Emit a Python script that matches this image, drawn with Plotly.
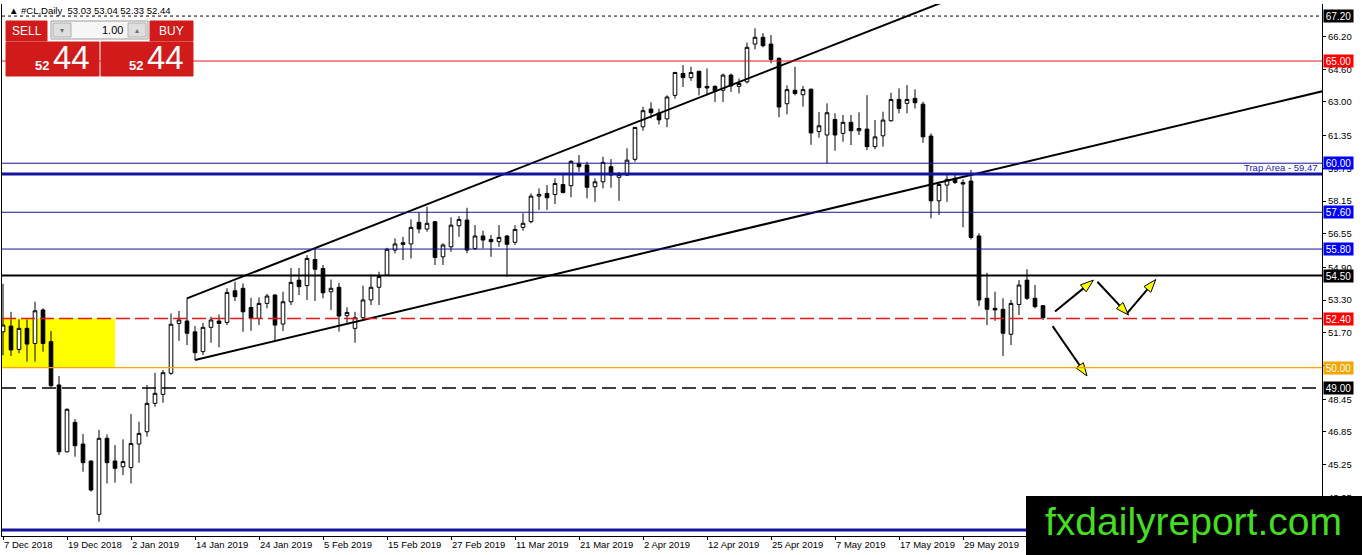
import math
import plotly.graph_objects as go

# ---- #CL Daily candles, bar 0 = 7 Dec 2018 (one bar per trading day) ----
opens = [51.75, 52.03, 50.89, 51.92, 51.18, 52.82, 51.27, 49.15, 45.88, 47.32,
         46.26, 45.43, 42.82, 46.54, 45.43, 45.15, 45.11, 46.26, 46.86, 48.25,
         48.69, 49.72, 52.16, 52.28, 51.75, 50.78, 51.97, 52.28, 52.21, 53.76,
         53.88, 52.94, 52.41, 53.14, 53.55, 52.13, 53.22, 54.28, 54.01, 55.29,
         54.85, 53.71, 53.93, 52.54, 51.92, 52.44, 53.31, 53.93, 54.53, 55.75,
         56.11, 56.05, 57.11, 56.78, 57.14, 55.42, 55.91, 56.94, 57.22, 55.83,
         56.44, 56.27, 56.16, 56.44, 56.13, 56.86, 57.14, 58.39, 58.52, 58.47,
         58.96, 58.90, 59.99, 59.91, 58.85, 59.09, 59.83, 59.31, 59.42, 60.19,
         61.78, 62.65, 62.45, 62.17, 63.32, 64.39, 64.19, 64.50, 63.76, 63.76,
         63.57, 64.31, 63.76, 63.98, 65.83, 66.16, 65.83, 65.13, 62.91, 63.57,
         63.35, 63.62, 61.55, 61.38, 62.14, 61.46, 62.00, 61.59, 61.67, 60.81,
         61.34, 62.08, 63.12, 62.93, 63.17, 62.89, 61.33, 58.16, 58.93, 59.26,
         59.06, 59.13, 56.44, 53.39, 52.90, 52.85, 51.63, 53.09, 54.28, 53.39,
         53.03]
highs = [54.10, 52.73, 52.36, 52.36, 53.22, 52.90, 51.79, 49.59, 48.00, 47.48,
         46.75, 45.45, 46.95, 46.73, 46.21, 46.49, 47.73, 47.35, 49.15, 49.75,
         49.88, 52.65, 52.77, 53.39, 52.03, 52.19, 52.49, 52.60, 53.88, 54.20,
         54.12, 53.41, 53.43, 53.60, 53.60, 53.71, 54.87, 54.87, 55.50, 55.83,
         55.02, 54.31, 54.15, 52.95, 52.73, 54.01, 54.56, 54.69, 55.86, 56.32,
         56.40, 57.25, 57.60, 57.87, 57.14, 56.08, 57.35, 57.41, 57.82, 56.97,
         56.70, 56.49, 56.97, 56.49, 56.97, 57.55, 58.52, 58.77, 58.93, 59.26,
         59.53, 60.15, 60.40, 60.07, 59.26, 60.32, 60.20, 59.58, 60.73, 61.78,
         62.76, 62.98, 62.67, 63.32, 64.47, 64.80, 64.72, 64.50, 64.64, 63.81,
         64.39, 64.39, 64.14, 65.90, 66.60, 66.36, 66.27, 65.18, 63.81, 64.72,
         63.78, 63.65, 62.50, 62.93, 62.44, 62.36, 62.36, 62.49, 63.33, 62.11,
         62.52, 63.45, 63.66, 63.82, 63.61, 63.01, 61.46, 59.09, 59.50, 59.53,
         59.21, 59.67, 56.57, 54.64, 53.71, 53.39, 53.31, 54.28, 54.81, 54.04,
         53.04]
lows = [50.60, 50.57, 50.70, 50.29, 50.29, 50.78, 49.06, 45.72, 45.85, 45.64,
        44.91, 43.93, 42.46, 44.33, 44.37, 44.74, 44.33, 45.35, 46.62, 48.09,
        48.28, 49.64, 51.31, 51.10, 50.37, 50.61, 51.22, 50.99, 52.08, 53.26,
        51.75, 51.80, 52.08, 52.90, 51.30, 51.79, 53.06, 53.55, 53.31, 53.26,
        53.39, 52.82, 51.76, 52.16, 51.22, 52.30, 53.06, 53.06, 54.48, 55.59,
        55.26, 55.34, 56.57, 56.65, 55.02, 55.02, 55.67, 56.40, 55.59, 55.75,
        55.83, 55.42, 55.91, 54.45, 56.00, 56.70, 57.06, 57.71, 57.71, 58.00,
        58.52, 58.33, 59.58, 58.28, 58.11, 58.77, 58.80, 58.16, 59.37, 60.07,
        61.59, 62.19, 61.89, 61.76, 63.16, 63.73, 64.03, 63.32, 63.32, 62.99,
        62.99, 63.49, 63.41, 63.90, 65.57, 65.67, 64.89, 62.25, 62.39, 63.32,
        62.77, 60.90, 61.25, 60.00, 60.61, 61.05, 60.89, 61.38, 60.64, 60.68,
        60.81, 62.03, 62.44, 62.44, 62.68, 61.00, 57.30, 57.46, 58.11, 58.98,
        56.86, 56.27, 53.01, 52.08, 52.29, 50.57, 51.10, 52.57, 53.31, 52.90,
        52.33]
closes = [52.08, 50.86, 51.92, 51.15, 52.78, 51.18, 49.11, 45.88, 47.96, 46.18,
          45.35, 44.01, 46.54, 45.35, 45.07, 45.40, 46.29, 46.78, 48.25, 48.74,
          49.75, 52.12, 52.33, 51.68, 50.73, 51.97, 52.33, 52.16, 53.68, 53.47,
          52.73, 52.41, 53.14, 53.50, 52.08, 53.22, 54.17, 53.96, 55.34, 54.81,
          53.66, 53.88, 52.52, 52.70, 52.44, 53.31, 53.93, 54.45, 55.79, 56.05,
          56.03, 56.86, 56.78, 57.06, 55.39, 56.00, 56.97, 57.25, 55.75, 56.44,
          56.24, 56.16, 56.37, 56.03, 56.76, 57.06, 58.39, 58.47, 58.31, 59.01,
          58.57, 60.09, 59.83, 58.82, 59.09, 60.04, 59.42, 59.45, 60.15, 61.75,
          62.57, 62.47, 62.12, 63.24, 64.44, 64.19, 64.44, 63.70, 63.68, 63.52,
          64.31, 63.78, 63.90, 65.67, 66.16, 65.75, 65.08, 62.75, 63.60, 63.41,
          63.60, 61.48, 61.83, 62.47, 61.38, 62.00, 61.59, 61.70, 60.81, 61.29,
          62.11, 63.12, 62.68, 63.12, 62.96, 61.29, 58.16, 58.96, 59.21, 59.06,
          58.98, 56.37, 53.31, 52.85, 52.82, 51.68, 53.14, 54.04, 53.39, 52.98,
          52.44]

label_bars = [0, 8, 16, 24, 32, 40, 48, 56, 64, 72, 80, 88, 96, 104, 112, 120]
date_labels = ["7 Dec 2018", "19 Dec 2018", "2 Jan 2019", "14 Jan 2019",
               "24 Jan 2019", "5 Feb 2019", "15 Feb 2019", "27 Feb 2019",
               "11 Mar 2019", "21 Mar 2019", "2 Apr 2019", "12 Apr 2019",
               "25 Apr 2019", "7 May 2019", "17 May 2019", "29 May 2019"]
price_ticks = [66.20, 64.60, 63.00, 61.35, 59.75, 58.15, 56.55, 54.90,
               53.30, 51.70, 50.10, 48.45, 46.85, 45.25, 43.65]

# horizontal levels drawn on the chart
levels = [67.20, 65.00, 60.00, 59.47, 57.60, 55.80, 54.50, 52.40, 50.00, 49.00, 42.05]
labelled_levels = [67.20, 65.00, 60.00, 57.60, 55.80, 54.50, 52.40, 50.00, 49.00]
trap_level = 59.47

# channel trendlines (anchor bar, price)
upper_line_x = [23, 118]
upper_line_y = [53.39, 67.96]
lower_line_x = [24, 166]
lower_line_y = [50.37, 63.62]

# yellow zone
zone_x = [-1, 14]
zone_y = [50.00, 52.40]

# scenario arrows (start bar/price -> end bar/price)
arrow_x0 = [131.5, 136.8, 140.5, 131.2]
arrow_y0 = [52.74, 54.20, 52.65, 52.03]
arrow_x1 = [136.3, 140.7, 144.1, 135.5]
arrow_y1 = [54.28, 52.57, 54.31, 49.59]

# ---- layout geometry ----
W, H = 1362, 555
ML, MR, MT, MB = 2, 40, 4, 19
PLOT_W = W - ML - MR
PLOT_H = H - MT - MB
X_RANGE = [-0.125, -0.125 + PLOT_W / 8]
Y_RANGE = [41.76, 67.79]
PX_BAR = PLOT_W / (X_RANGE[1] - X_RANGE[0])
PX_PRICE = PLOT_H / (Y_RANGE[1] - Y_RANGE[0])

FONT = "Liberation Sans"
BLUE_LINE = "#14149c"


def fx(px):
    return (px - ML) / PLOT_W


def fy(py):
    return 1 - (py - MT) / PLOT_H


level_style = {
    67.20: dict(color="black", width=1, dash="3px,3px"),
    65.00: dict(color="#e31a1a", width=1),
    60.00: dict(color=BLUE_LINE, width=1),
    59.47: dict(color=BLUE_LINE, width=3),
    57.60: dict(color=BLUE_LINE, width=1),
    55.80: dict(color=BLUE_LINE, width=1),
    54.50: dict(color="black", width=2),
    52.40: dict(color="#e31a1a", width=1.5, dash="14px,5px"),
    50.00: dict(color="#ffa500", width=1.2),
    49.00: dict(color="black", width=1.5, dash="14px,6px"),
    42.05: dict(color=BLUE_LINE, width=3),
}
label_bg = {67.20: "black", 65.00: "#ff0000", 60.00: "#0000ff", 57.60: "#0000ff",
            55.80: "#0000ff", 54.50: "black", 52.40: "#ff0000", 50.00: "#f5a500",
            49.00: "black"}

bars = list(range(len(opens)))

fig = go.Figure()
fig.add_trace(go.Candlestick(
    x=bars, open=opens, high=highs, low=lows, close=closes,
    increasing=dict(fillcolor="white", line=dict(color="black", width=1)),
    decreasing=dict(fillcolor="black", line=dict(color="black", width=1)),
    whiskerwidth=0, showlegend=False, hoverinfo="skip"
))

# channel lines
for lx, ly in ((upper_line_x, upper_line_y), (lower_line_x, lower_line_y)):
    fig.add_trace(go.Scatter(x=lx, y=ly, mode="lines", showlegend=False,
                             line=dict(color="black", width=2), hoverinfo="skip"))

# arrows: black shaft + yellow head
for x0, y0, x1, y1 in zip(arrow_x0, arrow_y0, arrow_x1, arrow_y1):
    dxp = (x1 - x0) * PX_BAR
    dyp = (y1 - y0) * PX_PRICE
    length = math.hypot(dxp, dyp)
    ux, uy = dxp / length, dyp / length
    head_len, half_w = 13, 4.5
    bx, by = -ux * head_len, -uy * head_len
    px_, py_ = -uy * half_w, ux * half_w
    base_x = x1 + bx / PX_BAR
    base_y = y1 + by / PX_PRICE
    fig.add_trace(go.Scatter(x=[x0, base_x], y=[y0, base_y], mode="lines",
                             line=dict(color="black", width=2),
                             showlegend=False, hoverinfo="skip"))
    hx = [x1, base_x + px_ / PX_BAR, base_x - px_ / PX_BAR, x1]
    hy = [y1, base_y + py_ / PX_PRICE, base_y - py_ / PX_PRICE, y1]
    fig.add_trace(go.Scatter(x=hx, y=hy, mode="lines", fill="toself",
                             fillcolor="#ffff00", line=dict(color="black", width=1),
                             showlegend=False, hoverinfo="skip"))

shapes = [dict(type="rect", xref="x", yref="y", x0=zone_x[0], x1=zone_x[1],
               y0=zone_y[0], y1=zone_y[1], fillcolor="#ffff00",
               line=dict(width=0), layer="below")]
for lv in levels:
    shapes.append(dict(type="line", xref="paper", yref="y", x0=0, x1=1,
                       y0=lv, y1=lv, line=level_style[lv], layer="above"))

# trade panel (top-left)
RED = "#d11a1a"
panel = [
    (6, 21, 47, 41, RED, RED),
    (51, 21, 148, 39, "#f7f7f7", "#9a9a9a"),
    (53, 23, 71, 37, "#dedede", "#b0b0b0"),
    (128, 23, 146, 37, "#dedede", "#b0b0b0"),
    (150, 21, 193, 41, RED, RED),
    (6, 42, 99, 76, RED, RED),
    (101, 42, 193, 76, RED, RED),
]
for x0, y0, x1, y1, fc, lc in panel:
    shapes.append(dict(type="rect", xref="paper", yref="paper",
                       x0=fx(x0), x1=fx(x1), y0=fy(y1), y1=fy(y0),
                       fillcolor=fc, line=dict(color=lc, width=1), layer="above"))
# watermark box
shapes.append(dict(type="rect", xref="paper", yref="paper",
                   x0=fx(1026), x1=fx(1362), y0=fy(555), y1=fy(496),
                   fillcolor="black", line=dict(width=0), layer="above"))

annotations = []
for lv in labelled_levels:
    annotations.append(dict(
        xref="paper", yref="y", x=1, y=lv, xanchor="left", yanchor="middle",
        xshift=1, text=f"{lv:.2f}", showarrow=False, bgcolor=label_bg[lv],
        font=dict(family=FONT, size=10, color="white"), width=29, height=12,
        borderpad=0))
annotations.append(dict(
    xref="paper", yref="y", x=1, y=trap_level, xanchor="right", yanchor="bottom",
    xshift=-2, yshift=-1, text=f"Trap Area - {trap_level:.2f}", showarrow=False,
    font=dict(family=FONT, size=9.5, color="#2020c0")))

last = (opens[-1], highs[-1], lows[-1], closes[-1])
annotations.append(dict(
    xref="paper", yref="paper", x=fx(7), y=fy(10.5), xanchor="left", yanchor="middle",
    text="▲ #CL,Daily  " + " ".join(f"{v:.2f}" for v in last), showarrow=False,
    font=dict(family=FONT, size=9.5, color="black")))

big, small = f"{closes[-1]:.2f}".split(".")
panel_text = [
    (26.5, 31, "SELL", 12, "white"),
    (171, 31, "BUY", 12, "white"),
    (112, 30, "1.00", 11, "black"),
    (62, 30, "▾", 8, "#707070"),
    (137, 30, "▴", 8, "#707070"),
    (42, 66, "<b>" + big + "</b>", 13, "white"),
    (71, 58, small, 33, "white"),
    (136, 66, "<b>" + big + "</b>", 13, "white"),
    (165, 58, small, 33, "white"),
]
for x, y, t, s, c in panel_text:
    annotations.append(dict(xref="paper", yref="paper", x=fx(x), y=fy(y),
                            xanchor="center", yanchor="middle", text=t,
                            showarrow=False, font=dict(family=FONT, size=s, color=c)))
annotations.append(dict(
    xref="paper", yref="paper", x=fx(1193), y=fy(521), xanchor="center",
    yanchor="middle", text="fxdailyreport.com", showarrow=False,
    font=dict(family=FONT, size=39, color="#44dd22")))

fig.update_layout(
    width=W, height=H,
    margin=dict(l=ML, r=MR, t=MT, b=MB, pad=0),
    paper_bgcolor="white", plot_bgcolor="white",
    showlegend=False, boxgap=0.35,
    shapes=shapes, annotations=annotations,
    font=dict(family=FONT, size=9.5, color="black"),
)
fig.update_xaxes(
    range=X_RANGE, showgrid=False, zeroline=False, rangeslider_visible=False,
    tickvals=label_bars, ticktext=date_labels, ticks="outside", ticklen=3,
    tickcolor="black", ticklabelposition="outside right",
    showline=True, linecolor="black", linewidth=1,
    tickfont=dict(family=FONT, size=9.5, color="black"),
)
fig.update_yaxes(
    range=Y_RANGE, side="right", showgrid=False, zeroline=False,
    tickvals=price_ticks, tickformat=".2f", ticks="outside", ticklen=3,
    tickcolor="black", showline=True, mirror=True, linecolor="black", linewidth=1,
    tickfont=dict(family=FONT, size=9.5, color="black"),
)

fig.write_html("out.html", config={"displayModeBar": False},
               post_script="document.body.style.margin='0';")
